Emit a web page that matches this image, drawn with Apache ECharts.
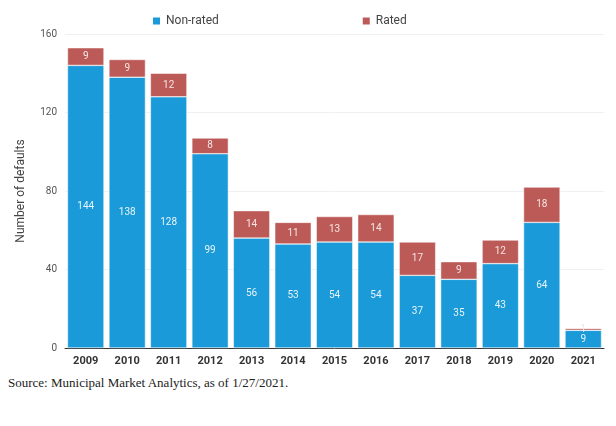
<!DOCTYPE html>
<html lang="en">
<head>
<meta charset="UTF-8">
<title>Defaults</title>
<script src="https://cdn.jsdelivr.net/npm/echarts@6/dist/echarts.min.js"></script>
<style>
body{margin:0;background:#fff;}
#src{position:absolute;left:8px;top:375px;font-family:"Liberation Serif",serif;font-size:13px;color:#222;}
</style>
</head>
<body>
<div id="main" style="width:616px;height:370px;"></div>
<div id="src">Source: Municipal Market Analytics, as of 1/27/2021.</div>
<script type="text/javascript">
var years = ['2009','2010','2011','2012','2013','2014','2015','2016','2017','2018','2019','2020','2021'];
var nonRated = [144,138,128,99,56,53,54,54,37,35,43,64,9];
var rated = [9,9,12,8,14,11,13,14,17,9,12,18,1];

var myChart = echarts.init(document.getElementById('main'));
myChart.setOption({
    animation: false,
    textStyle: { fontFamily: 'Roboto, sans-serif' },
    legend: {
        left: 146, top: 10, itemGap: 142,
        itemWidth: 9, itemHeight: 9, icon: 'rect',
        textStyle: { color: '#444', fontSize: 12 },
        data: ['Non-rated', 'Rated']
    },
    grid: { left: 65, right: 12, top: 34, bottom: 22 },
    xAxis: {
        type: 'category', data: years,
        axisLine: { lineStyle: { color: '#333' } },
        axisTick: { show: false },
        axisLabel: { color: '#333', fontWeight: 'bold', fontSize: 11, margin: 8 }
    },
    yAxis: {
        type: 'value', min: 0, max: 160, interval: 40,
        name: 'Number of defaults', nameLocation: 'middle', nameGap: 38,
        nameTextStyle: { color: '#444', fontSize: 12 },
        axisLabel: { color: '#555', fontSize: 10 },
        splitLine: { lineStyle: { color: '#eef0f2' } }
    },
    series: [{
        name: 'Non-rated', type: 'bar', stack: 'a', data: nonRated,
        barCategoryGap: '12%',
        itemStyle: { color: '#1a9ad8', borderColor: '#fff', borderWidth: 0.5 },
        label: { show: true, position: 'inside', color: '#e8f4fb', fontSize: 10 }
    }, {
        name: 'Rated', type: 'bar', stack: 'a', data: rated,
        itemStyle: { color: '#bb5a56', borderColor: '#fff', borderWidth: 0.5 },
        label: { show: true, position: 'inside', color: '#f6e6e5', fontSize: 10 }
    }]
});
</script>
</body>
</html>
